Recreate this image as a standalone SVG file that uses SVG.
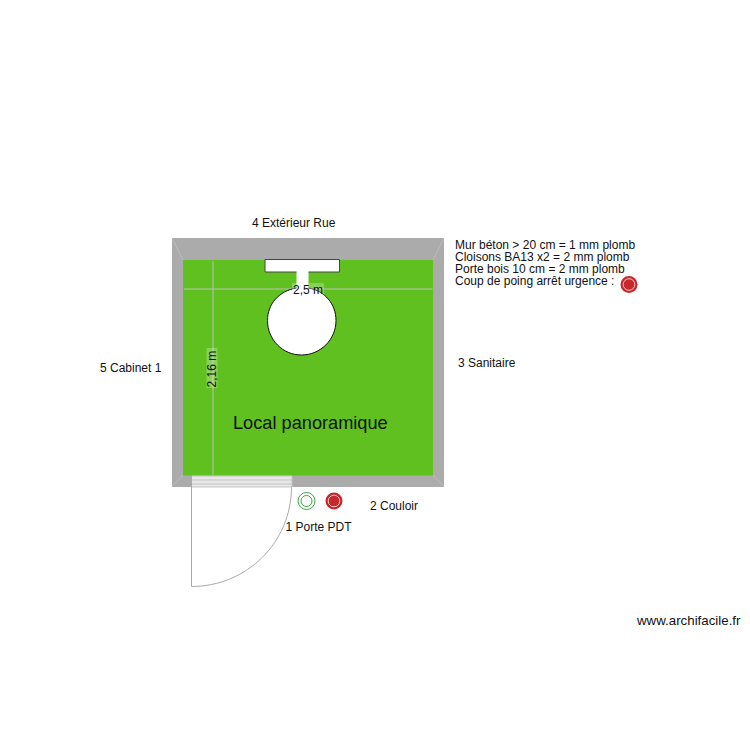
<svg xmlns="http://www.w3.org/2000/svg" width="750" height="750" viewBox="0 0 750 750">
<style>
text{font-family:"Liberation Sans",Arial,sans-serif;font-size:12px;fill:#111}
.dim{stroke:#bcc4b4;stroke-width:1;fill:none}
.mitre{stroke:#c4c4c4;stroke-width:.7;fill:none}
.lab{fill:#fff;fill-opacity:.25}
</style>
<rect width="750" height="750" fill="#fff"/>
<g id="room">
<path d="M172 238H444V487H172Z" fill="#ababab"/>
<rect x="183" y="260" width="250" height="215.500" fill="#60c020"/>
<path class="mitre" d="M172 238L183 260M444 238L433 260M172 487L183 475M444 487L433 475"/>
</g>
<g id="connectors">
<path class="dim" d="M184 289H432.500M213 261V475"/>
</g>
<g id="furniture">
<path d="M265 259.500H339.500V272H308.500V288C325 291 336 304 336 320.500C336 339.500 320.500 355 301.500 355C282.500 355 267.500 339.500 267.500 320.500C267.500 304 279 291 296.500 288V272H265Z" fill="#fff"/>
<path d="M296.500 272H265V259.500H339.500V272H308.500" fill="none" stroke="#444" stroke-width="1"/>
<path d="M308.500 288C325 291 336 304 336 320.500C336 339.500 320.500 355 301.500 355C282.500 355 267.500 339.500 267.500 320.500C267.500 304 279 291 296.500 288" fill="none" stroke="#111" stroke-width="1"/>
</g>
<g id="door">
<path d="M191.500 487V586.500C247 586.500 291.500 542 291.500 487" fill="#fff" stroke="#aaa" stroke-width="1"/>
<rect x="192" y="476" width="100" height="11" fill="#e8e8ea"/>
<path d="M192 476H292M192 480H292M192 484H292M192 487H292M292 476V487" stroke="#c4c4c4" stroke-width="1" fill="none"/>
</g>
<g id="dim-width">
<rect x="292" y="283" width="32" height="13" class="lab"/>
<text x="293" y="293.500">2,5 m</text>
</g>
<g id="dim-height">
<rect x="206.500" y="348" width="11" height="40" class="lab"/>
<text transform="translate(216 387.500) rotate(-90)">2,16 m</text>
</g>
<g id="room-name"><text x="233" y="429" style="font-size:18.200px">Local panoramique</text></g>
<g id="label-rue"><text x="252" y="227">4 Extérieur Rue</text></g>
<g id="label-cabinet"><text x="100" y="372">5 Cabinet 1</text></g>
<g id="label-sanitaire"><text x="458" y="367">3 Sanitaire</text></g>
<g id="label-couloir"><text x="370" y="510">2 Couloir</text></g>
<g id="label-porte"><text x="285.500" y="531">1 Porte PDT</text></g>
<g id="notes">
<text x="455" y="249">Mur béton &gt; 20 cm = 1 mm plomb</text>
<text x="455" y="261">Cloisons BA13 x2 = 2 mm plomb</text>
<text x="455" y="273">Porte bois 10 cm = 2 mm plomb</text>
<text x="455" y="285">Coup de poing arrêt urgence :</text>
</g>
<g id="marker-green">
<circle cx="306.500" cy="501" r="8.500" fill="#fff" stroke="#3aa845" stroke-width="1"/>
<circle cx="306.500" cy="501" r="5.500" fill="#fff" stroke="#3aa845" stroke-width="1"/>
</g>
<g id="marker-red-1">
<circle cx="334" cy="501" r="8.500" fill="#c5282c"/>
<circle cx="334" cy="501" r="5.800" fill="#c5282c" stroke="#f0c8c8" stroke-width="1"/>
</g>
<g id="marker-red-2">
<circle cx="629" cy="284.500" r="8.500" fill="#c5282c"/>
<circle cx="629" cy="284.500" r="5.800" fill="#c5282c" stroke="#f0c8c8" stroke-width="1"/>
</g>
<g id="credit"><text x="637" y="625" style="font-size:13.300px">www.archifacile.fr</text></g>
</svg>
